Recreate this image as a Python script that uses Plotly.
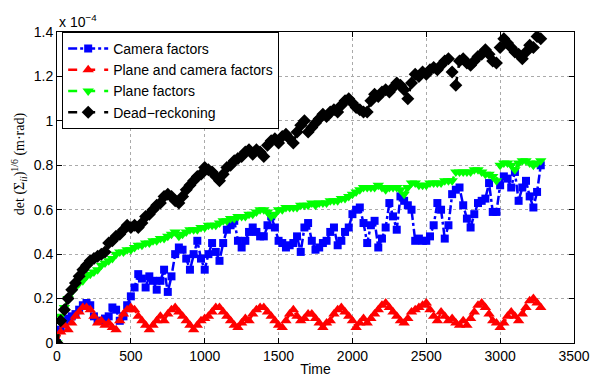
import plotly.graph_objects as go

time = list(range(0, 3276, 25))

camera = [
    0.00, 0.06, 0.09, 0.11, 0.12, 0.13, 0.15, 0.17, 0.18, 0.17,
    0.12, 0.10, 0.10, 0.11, 0.12, 0.16, 0.15, 0.10, 0.12, 0.17,
    0.21, 0.25, 0.31, 0.29, 0.25, 0.30, 0.28, 0.24, 0.28, 0.33,
    0.23, 0.30, 0.40, 0.43, 0.42, 0.38, 0.33, 0.40, 0.46, 0.38,
    0.33, 0.40, 0.45, 0.41, 0.37, 0.45, 0.51, 0.53, 0.55, 0.46,
    0.43, 0.46, 0.50, 0.52, 0.50, 0.48, 0.48, 0.53, 0.57, 0.52,
    0.46, 0.45, 0.43, 0.44, 0.45, 0.48, 0.41, 0.52, 0.54, 0.46,
    0.42, 0.43, 0.45, 0.46, 0.50, 0.52, 0.44, 0.46, 0.50, 0.52,
    0.58, 0.60, 0.61, 0.54, 0.45, 0.53, 0.55, 0.43, 0.47, 0.52,
    0.63, 0.57, 0.51, 0.66, 0.64, 0.62, 0.60, 0.46, 0.47, 0.46,
    0.46, 0.48, 0.53, 0.63, 0.60, 0.47, 0.53, 0.67, 0.69, 0.70,
    0.62, 0.56, 0.52, 0.58, 0.63, 0.64, 0.65, 0.72, 0.59, 0.59,
    0.71, 0.75, 0.74, 0.70, 0.77, 0.64, 0.70, 0.73, 0.66, 0.61,
    0.68, 0.80,
]

plane_camera = [
    0.00, 0.05, 0.08, 0.06, 0.09, 0.12, 0.14, 0.16, 0.16, 0.15,
    0.12, 0.09, 0.10, 0.08, 0.09, 0.07, 0.06, 0.10, 0.13, 0.15,
    0.16, 0.15, 0.12, 0.10, 0.08, 0.06, 0.08, 0.10, 0.12, 0.10,
    0.13, 0.15, 0.16, 0.14, 0.12, 0.10, 0.08, 0.06, 0.08, 0.10,
    0.11, 0.12, 0.14, 0.16, 0.16, 0.14, 0.12, 0.10, 0.08, 0.07,
    0.09, 0.11, 0.10, 0.13, 0.15, 0.16, 0.16, 0.14, 0.12, 0.10,
    0.08, 0.07, 0.10, 0.13, 0.15, 0.12, 0.10, 0.11, 0.13, 0.13,
    0.11, 0.09, 0.07, 0.09, 0.10, 0.13, 0.15, 0.16, 0.14, 0.12,
    0.10, 0.07, 0.09, 0.11, 0.09, 0.11, 0.13, 0.15, 0.17, 0.18,
    0.16, 0.14, 0.12, 0.10, 0.09, 0.11, 0.14, 0.15, 0.16, 0.17,
    0.18, 0.15, 0.12, 0.10, 0.14, 0.12, 0.10, 0.11, 0.09, 0.08,
    0.10, 0.08, 0.11, 0.14, 0.17, 0.18, 0.16, 0.13, 0.10, 0.09,
    0.07, 0.09, 0.12, 0.14, 0.12, 0.10, 0.13, 0.16, 0.19, 0.20,
    0.18, 0.16,
]

plane = [
    0.00, 0.12, 0.16, 0.20, 0.23, 0.25, 0.27, 0.28, 0.30, 0.31,
    0.32, 0.33, 0.35, 0.36, 0.37, 0.38, 0.40, 0.41, 0.41, 0.42,
    0.42, 0.43, 0.44, 0.44, 0.45, 0.45, 0.46, 0.46, 0.47, 0.47,
    0.48, 0.49, 0.50, 0.48, 0.49, 0.50, 0.51, 0.51, 0.51, 0.52,
    0.52, 0.53, 0.53, 0.53, 0.54, 0.55, 0.55, 0.56, 0.56, 0.57,
    0.57, 0.57, 0.58, 0.58, 0.59, 0.60, 0.60, 0.59, 0.57, 0.58,
    0.60, 0.60, 0.61, 0.61, 0.61, 0.61, 0.62, 0.62, 0.62, 0.63,
    0.62, 0.63, 0.63, 0.63, 0.64, 0.64, 0.64, 0.65, 0.65, 0.66,
    0.67, 0.68, 0.69, 0.70, 0.70, 0.70, 0.70, 0.71, 0.70, 0.69,
    0.70, 0.70, 0.70, 0.69, 0.67, 0.70, 0.72, 0.72, 0.71, 0.71,
    0.71, 0.72, 0.72, 0.72, 0.72, 0.73, 0.73, 0.73, 0.77, 0.77,
    0.77, 0.77, 0.77, 0.78, 0.78, 0.77, 0.76, 0.76, 0.75, 0.73,
    0.80, 0.81, 0.81, 0.80, 0.78, 0.81, 0.82, 0.82, 0.81, 0.80,
    0.81, 0.82,
]

dead_reckoning = [
    0.00, 0.10, 0.15, 0.20, 0.24, 0.27, 0.30, 0.33, 0.35, 0.37,
    0.38, 0.39, 0.40, 0.41, 0.45, 0.46, 0.48, 0.49, 0.51, 0.53,
    0.52, 0.53, 0.52, 0.54, 0.57, 0.58, 0.60, 0.62, 0.63, 0.66,
    0.67, 0.66, 0.64, 0.63, 0.66, 0.69, 0.71, 0.73, 0.75, 0.76,
    0.79, 0.78, 0.77, 0.75, 0.73, 0.76, 0.79, 0.80, 0.82, 0.83,
    0.84, 0.86, 0.87, 0.85, 0.87, 0.86, 0.84, 0.89, 0.91, 0.92,
    0.90, 0.93, 0.94, 0.92, 0.90, 0.95, 0.98, 1.00, 0.95, 0.97,
    0.99, 1.01, 1.03, 1.02, 1.04, 1.05, 1.04, 1.07, 1.09, 1.10,
    1.08, 1.06, 1.05, 1.04, 1.04, 1.09, 1.12, 1.11, 1.13, 1.14,
    1.13, 1.15, 1.17, 1.16, 1.14, 1.10, 1.17, 1.21, 1.20, 1.22,
    1.21, 1.23, 1.24, 1.23, 1.25, 1.27, 1.28, 1.22, 1.16, 1.27,
    1.28, 1.26, 1.25, 1.27, 1.29, 1.30, 1.32, 1.30, 1.27, 1.26,
    1.33, 1.37, 1.35, 1.33, 1.31, 1.30, 1.28, 1.31, 1.34, 1.33,
    1.38, 1.37,
]

series_names = ["Camera factors", "Plane and camera factors", "Plane factors", "Dead\u2212reckoning"]
x_ticks = [0, 500, 1000, 1500, 2000, 2500, 3000, 3500]
y_ticks = [0, 0.2, 0.4, 0.6, 0.8, 1, 1.2, 1.4]
y_tick_text = ["0", "0.2", "0.4", "0.6", "0.8", "1", "1.2", "1.4"]

styles = [
    dict(color="#0000FF", symbol="square", dash="dashdot", size=8),
    dict(color="#FF0000", symbol="triangle-up", dash="dash", size=10),
    dict(color="#00FF00", symbol="triangle-down", dash="dash", size=10),
    dict(color="#000000", symbol="diamond", dash="dash", size=10),
]

fig = go.Figure()
for name, ys, st in zip(series_names, [camera, plane_camera, plane, dead_reckoning], styles):
    n = min(len(time), len(ys))
    fig.add_trace(go.Scatter(
        x=time[:n], y=ys[:n], name=name, mode="lines+markers",
        line=dict(color=st["color"], width=2.5, dash=st["dash"]),
        marker=dict(symbol=st["symbol"], size=st["size"], color=st["color"],
                    line=dict(width=0)),
    ))

axis_font = dict(family="Liberation Sans, Arial, sans-serif", size=14, color="black")

fig.update_layout(
    width=592, height=377,
    margin=dict(l=57, r=18, t=32, b=34, autoexpand=False),
    paper_bgcolor="white", plot_bgcolor="white",
    font=axis_font,
    showlegend=True,
    legend=dict(
        x=0.01, y=1.0, xanchor="left", yanchor="top",
        bgcolor="white", bordercolor="black", borderwidth=1,
        font=dict(family="Liberation Sans, Arial, sans-serif", size=14, color="black"),
        tracegroupgap=0, itemwidth=40,
    ),
    xaxis=dict(
        range=[0, 3500], tickvals=x_ticks, showgrid=True, automargin=False,
        gridcolor="#AAAAAA", griddash="dot", gridwidth=1,
        showline=True, linecolor="black", linewidth=1, mirror="ticks",
        ticks="inside", ticklen=5, tickcolor="black", zeroline=False,
        title=dict(text="Time", font=axis_font, standoff=3),
        tickfont=axis_font,
    ),
    yaxis=dict(
        range=[0, 1.4], tickvals=y_ticks, ticktext=y_tick_text, showgrid=True,
        automargin=False,
        gridcolor="#AAAAAA", griddash="dot", gridwidth=1,
        showline=True, linecolor="black", linewidth=1, mirror="ticks",
        ticks="inside", ticklen=5, tickcolor="black", zeroline=False,
        tickfont=axis_font,
    ),
    annotations=[
        dict(
            text="x 10<sup>\u22124</sup>", xref="paper", yref="paper",
            x=0.0, y=1.0, xanchor="left", yanchor="bottom", showarrow=False,
            font=axis_font, yshift=0,
        ),
        dict(
            text="det (\u03a3<sub><i>ii</i></sub>)<sup>1/6</sup> (m\u00b7rad)",
            xref="paper", yref="paper", x=0.0, y=0.575, xanchor="center",
            yanchor="middle", xshift=-38, textangle=-90, showarrow=False,
            font=dict(family="Liberation Serif, serif", size=14, color="black"),
        ),
    ],
)

fig.write_html("out.html", config={"displayModeBar": False},
               post_script="document.body.style.margin='0px';")
